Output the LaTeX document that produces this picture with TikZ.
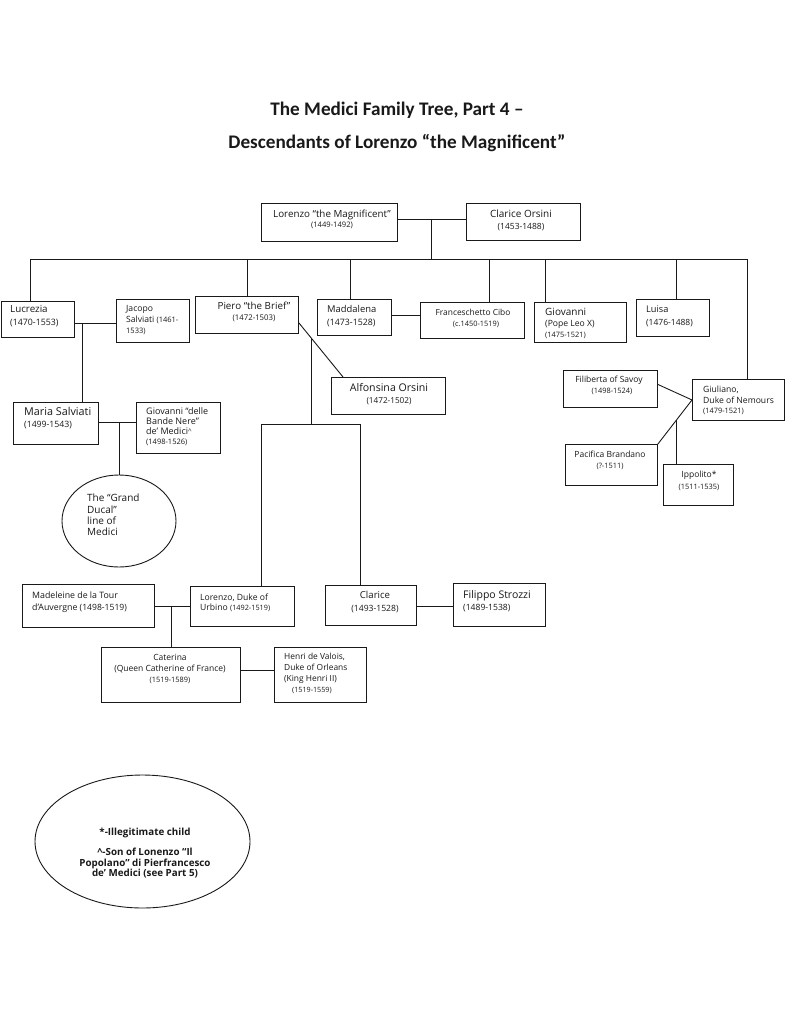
\documentclass[tikz,border=0pt]{standalone}
\usepackage{fontspec}
\setmainfont{Open Sans}
\newfontfamily\titlefont{Carlito}
\usetikzlibrary{calc,shapes.geometric}
\definecolor{ink}{rgb}{0.1,0.1,0.1}
\newcommand\fs[2]{\fontsize{#1}{#2}\selectfont}
\begin{document}
\begin{tikzpicture}[x=1pt,y=-1pt,
  box/.style={draw=ink, line width=0.9pt, inner sep=0pt, anchor=north west, rectangle},
  oval/.style={draw=ink, line width=0.9pt, inner sep=0pt, ellipse},
  tx/.style={inner sep=0pt, text=ink},
  ln/.style={draw=ink, line width=0.9pt}]
\fill[white] (0,0) rectangle (791,1023);
\useasboundingbox (0,0) rectangle (791,1023);

% title
\node[tx, font=\titlefont\bfseries\fs{19.2}{22}] (t1) at (397,110) {The Medici Family Tree, Part 4 –};
\node[tx, font=\titlefont\bfseries\fs{19.2}{22}] (t2) at (397,143) {Descendants of Lorenzo “the Magnificent”};

% boxes
\node[box, minimum width=136, minimum height=38] (lor) at (261,203) {};
\node[box, minimum width=114, minimum height=37] (clo) at (466,203) {};
\node[box, minimum width=73, minimum height=36] (luc) at (1,301) {};
\node[box, minimum width=73, minimum height=43] (jac) at (116,299) {};
\node[box, minimum width=103, minimum height=37] (pie) at (195,296) {};
\node[box, minimum width=74, minimum height=36] (mad) at (317,299) {};
\node[box, minimum width=104, minimum height=36] (fra) at (420,302) {};
\node[box, minimum width=92, minimum height=40] (gio) at (534,302) {};
\node[box, minimum width=73, minimum height=37] (lui) at (636,299) {};
\node[box, minimum width=85, minimum height=42] (mar) at (13,402) {};
\node[box, minimum width=84, minimum height=51] (gbn) at (136,402) {};
\node[box, minimum width=114, minimum height=37] (alf) at (331,377) {};
\node[box, minimum width=132.5, minimum height=43] (mdl) at (21.5,584) {};
\node[box, minimum width=104, minimum height=40] (ldu) at (190,586) {};
\node[box, minimum width=91, minimum height=40] (cla) at (325,585) {};
\node[box, minimum width=92, minimum height=43] (fil) at (453,583) {};
\node[box, minimum width=139.5, minimum height=55] (cat) at (100.5,647) {};
\node[box, minimum width=92, minimum height=55] (hen) at (274,647) {};
\node[box, minimum width=94, minimum height=37] (fsv) at (563,370) {};
\node[box, minimum width=92, minimum height=41] (giu) at (692,379) {};
\node[box, minimum width=92, minimum height=41] (pac) at (565,444) {};
\node[box, minimum width=70, minimum height=41] (ipp) at (663,464) {};
\node[oval, minimum width=114, minimum height=92] (gdl) at (119,521) {};
\node[oval, minimum width=215, minimum height=133] (leg) at (142.5,841.5) {};

% texts
\node[tx, align=center, font=\fs{7.6}{10.5}] (lorT) at (332,219.5) {\fs{9.8}{10.5}Lorenzo “the Magnificent”\\(1449-1492)};
\node[tx, align=center, font=\fs{8.5}{12}] (cloT) at (521,220) {\fs{10}{12}Clarice Orsini\\(1453-1488)};
\node[tx, align=left, anchor=west, font=\fs{8.8}{13}] (lucT) at (10,316.5) {\fs{9.8}{13}Lucrezia\\(1470-1553)};
\node[tx, align=left, anchor=west, font=\fs{7.5}{11}] (jacT) at (126,320) {\fs{8.6}{11}Jacopo\\\fs{8.6}{11}Salviati \fs{7.5}{11}(1461-\\1533)};
\node[tx, align=center, font=\fs{7.8}{10.5}] (pieT) at (254,312) {\fs{9.8}{10.5}Piero “the Brief”\\(1472-1503)};
\node[tx, align=left, anchor=west, font=\fs{8.8}{13}] (madT) at (327,316) {\fs{9.4}{13}Maddalena\\(1473-1528)};
\node[tx, align=center, font=\fs{7.4}{11}] (fraT) at (473,318) {\fs{8.4}{11}Franceschetto Cibo\\\hspace*{6pt}(c.1450-1519)};
\node[tx, align=left, anchor=west, font=\fs{8.6}{11}] (gioT) at (545,323) {\fs{10}{11}Giovanni\\(Pope Leo X)\\\fs{7.4}{11}(1475-1521)};
\node[tx, align=left, anchor=west, font=\fs{8.5}{13}] (luiT) at (646,316) {\fs{9.2}{13}Luisa\\(1476-1488)};
\node[tx, align=left, anchor=west, font=\fs{8.7}{12}] (marT) at (24,418) {\fs{10.8}{12}Maria Salviati\\(1499-1543)};
\node[tx, align=left, anchor=west, font=\fs{9}{10}] (gbnT) at (146,427) {Giovanni “delle\\Bande Nere”\\de’ Medici\raisebox{1.5pt}{\fs{6.5}{10}\textasciicircum}\\\fs{7.5}{10}(1498-1526)};
\node[tx, align=left, anchor=west, font=\fs{10}{11.3}] (gdlT) at (87,515) {The “Grand\\Ducal”\\line of\\Medici};
\node[tx, align=center, font=\fs{8.2}{12}] (alfT) at (389,394) {\fs{10.6}{12}Alfonsina Orsini\\(1472-1502)};
\node[tx, align=left, anchor=west, font=\fs{8.8}{12}] (mdlT) at (32,602) {Madeleine de la Tour\\d’Auvergne \fs{8.6}{12}(1498-1519)};
\node[tx, align=left, anchor=west, font=\fs{8.6}{10.5}] (lduT) at (200,603) {Lorenzo, Duke of\\Urbino \fs{7.3}{10.5}(1492-1519)};
\node[tx, align=center, font=\fs{8.6}{13}] (claT) at (375,602.5) {\fs{9.6}{13}Clarice\\(1493-1528)};
\node[tx, align=left, anchor=west, font=\fs{8.6}{12}] (filT) at (463,601) {\fs{10.5}{12}Filippo Strozzi\\(1489-1538)};
\node[tx, align=center, font=\fs{8.5}{11}] (catT) at (170,669) {Caterina\\(Queen Catherine of France)\\\fs{7.4}{11}(1519-1589)};
\node[tx, align=left, anchor=west, font=\fs{8.4}{11}] (henT) at (284,673.5) {Henri de Valois,\\Duke of Orleans\\(King Henri II)\\\hspace*{8pt}\fs{7.2}{11}(1519-1559)};
\node[tx, align=center, font=\fs{7.4}{11}] (fsvT) at (609,385.5) {\fs{8.5}{11}Filiberta of Savoy\\\hspace*{6pt}(1498-1524)};
\node[tx, align=left, anchor=west, font=\fs{8.6}{10.5}] (giuT) at (703,400.5) {Giuliano,\\Duke of Nemours\\\fs{7.4}{10.5}(1479-1521)};
\node[tx, align=center, font=\fs{7.4}{11}] (pacT) at (610,460.5) {\fs{8.5}{11}Pacifica Brandano\\(?-1511)};
\node[tx, align=center, font=\fs{7.4}{12}] (ippT) at (699,481) {\fs{8.5}{12}Ippolito*\\(1511-1535)};
\node[tx, align=center, font=\bfseries\fs{9.8}{10.2}] (legT) at (145,853) {*-Illegitimate child\\[10pt]\textasciicircum-Son of Lonenzo “Il\\Popolano” di Pierfrancesco\\de’ Medici (see Part 5)};

% connectors
\coordinate (m0) at (431,219);
\coordinate (barL) at (30,259);
\coordinate (barR) at (747,259);
\draw[ln] (lor.east |- m0) -- (clo.west |- m0);
\draw[ln] (m0) -- (m0 |- barL);
\draw[ln] (barL |- luc.north) -- (barL) -- (barR) -- (barR |- giu.north);
\draw[ln] (pie.north) -- (pie.north |- barL);
\draw[ln] ([xshift=-4pt]mad.north) -- ([xshift=-4pt]mad.north |- barL);
\draw[ln] ([xshift=17pt]fra.north) -- ([xshift=17pt]fra.north |- barL);
\draw[ln] ([xshift=11pt]gio.north west) -- ([xshift=11pt]gio.north west |- barL);
\draw[ln] ([xshift=3pt]lui.north) -- ([xshift=3pt]lui.north |- barL);

\coordinate (m1) at (82,323);
\draw[ln] (luc.east |- m1) -- (jac.west |- m1);
\draw[ln] (m1) -- (m1 |- mar.north);

\coordinate (m2) at (119,422);
\draw[ln] (mar.east |- m2) -- (gbn.west |- m2);
\draw[ln] (m2) -- (gdl.north);

\coordinate (m3) at (405,315);
\draw[ln] (mad.east |- m3) -- (fra.west |- m3);

\coordinate (p1) at ([yshift=11pt]pie.south east);
\coordinate (p2) at ([xshift=12pt]alf.north west);
\draw[ln] (p1) -- (p2);
\coordinate (pc) at ($(p1)!0.289!(p2)$);
\coordinate (kL) at (261,424);
\coordinate (kR) at (360,424);
\draw[ln] (pc) -- (pc |- kL);
\draw[ln] (kL |- ldu.north) -- (kL) -- (kR) -- (kR |- cla.north);

\coordinate (m5) at (171,606);
\draw[ln] (mdl.east |- m5) -- (ldu.west |- m5);
\draw[ln] (m5) -- (m5 |- cat.north);

\coordinate (m6) at (434,606);
\draw[ln] (cla.east |- m6) -- (fil.west |- m6);

\coordinate (m7) at (257,670.5);
\draw[ln] (cat.east |- m7) -- (hen.west |- m7);

\draw[ln] ([yshift=4.5pt]fsv.east) -- (giu.west);
\draw[ln] (pac.north east) -- (giu.west);
\coordinate (ic) at ($(pac.north east)!0.543!(giu.west)$);
\draw[ln] (ic) -- (ic |- ipp.north);
\end{tikzpicture}
\end{document}
